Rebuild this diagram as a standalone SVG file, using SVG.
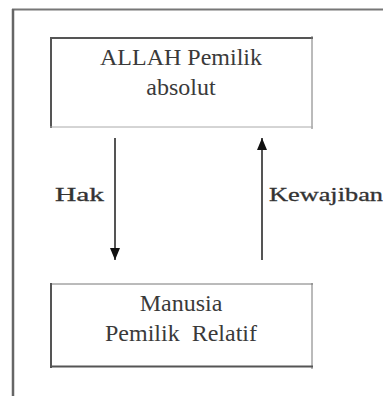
<svg xmlns="http://www.w3.org/2000/svg" width="383" height="396" viewBox="0 0 383 396">
<defs>
<style>
.t{font-size:24px;fill:#3a3a3a;text-anchor:middle}
.l{font-size:19px;fill:#333;stroke:#333;stroke-width:0.3}
.dk{stroke:#555;stroke-width:2;fill:none}
.th{stroke:#777;stroke-width:1;fill:none}
.ar{stroke:#555;stroke-width:2;fill:none}
</style>
<marker id="ah" viewBox="0 0 12 10" refX="12" refY="5" markerWidth="12" markerHeight="10" markerUnits="userSpaceOnUse" orient="auto">
<path d="M0,0 L12,5 L0,10 Z" fill="#111"/>
</marker>
</defs>
<rect width="383" height="396" fill="#fff"/>
<g id="frame">
<line x1="12" y1="9.5" x2="383" y2="9.5" stroke="#777" stroke-width="2"/>
<line x1="13" y1="9" x2="13" y2="396" stroke="#666" stroke-width="2.5"/>
</g>
<g id="allah" font-family="Liberation Serif, Times New Roman, serif">
<line class="dk" x1="50" y1="38" x2="313" y2="38"/>
<line class="dk" x1="51" y1="37" x2="51" y2="128"/>
<line class="th" x1="312" y1="36" x2="312" y2="129"/>
<line x1="50" y1="127" x2="313" y2="127" stroke="#aaa" stroke-width="1"/>
<text class="t" x="181" y="65">ALLAH Pemilik</text>
<text class="t" x="181" y="95">absolut</text>
</g>
<g id="manusia" font-family="Liberation Serif, Times New Roman, serif">
<line class="th" x1="50" y1="284" x2="313" y2="284"/>
<line class="dk" x1="51" y1="283" x2="51" y2="368"/>
<line class="th" x1="312" y1="283" x2="312" y2="369"/>
<line class="dk" x1="50" y1="366.5" x2="313" y2="366.5"/>
<text class="t" x="181" y="311">Manusia</text>
<text class="t" x="181" y="341" xml:space="preserve">Pemilik  Relatif</text>
</g>
<g id="connectors" font-family="Liberation Serif, Times New Roman, serif">
<line class="ar" x1="115" y1="138" x2="115" y2="260" marker-end="url(#ah)"/>
<line class="ar" x1="262" y1="260" x2="262" y2="138" marker-end="url(#ah)"/>
<text class="l" x="55" y="201" textLength="49" lengthAdjust="spacingAndGlyphs">Hak</text>
<text class="l" x="269" y="201" textLength="114" lengthAdjust="spacingAndGlyphs">Kewajiban</text>
</g>
</svg>
